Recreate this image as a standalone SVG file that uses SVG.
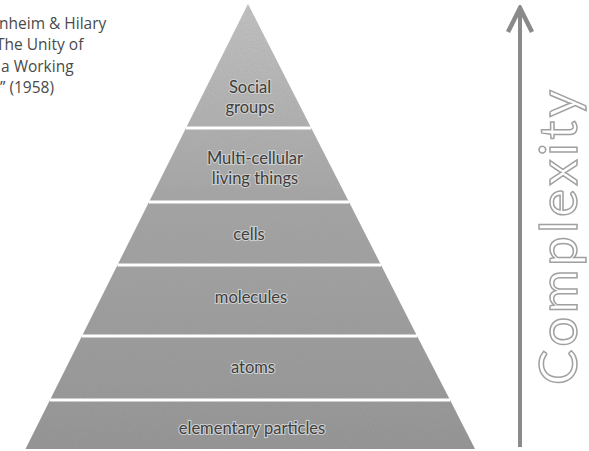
<svg xmlns="http://www.w3.org/2000/svg" width="589" height="451" viewBox="0 0 589 451">
<style>
.layer{fill:url(#pg);filter:url(#noise)}
.lbl{font-family:Lato,"Liberation Sans",sans-serif;font-size:16.5px;fill:#3e3e3e;stroke:#cfcfcf;stroke-width:2.2;paint-order:stroke;text-anchor:middle}
.sep{stroke:#ffffff;stroke-width:3}
.cite{font-family:"Open Sans","Liberation Sans",sans-serif;font-size:15.5px;fill:#4a4a4a}
.axis{font-family:Lato,"Liberation Sans",sans-serif;font-size:53px;fill:#ffffff;stroke:#a0a0a0;stroke-width:1.5}
</style>
<defs>
<linearGradient id="pg" gradientUnits="userSpaceOnUse" x1="0" y1="4" x2="0" y2="449">
<stop offset="0" stop-color="#c4c4c4"/>
<stop offset="0.45" stop-color="#a4a4a4"/>
<stop offset="1" stop-color="#929292"/>
</linearGradient>
<filter id="noise" x="0" y="0" width="1" height="1">
<feTurbulence type="fractalNoise" baseFrequency="0.7" numOctaves="2" seed="3" result="t"/>
<feColorMatrix in="t" type="matrix" values="0 0 0 0 0.35  0 0 0 0 0.35  0 0 0 0 0.35  0 0 0 0.6 -0.12" result="n"/>
<feComposite in="n" in2="SourceGraphic" operator="in" result="nc"/>
<feMerge><feMergeNode in="SourceGraphic"/><feMergeNode in="nc"/></feMerge>
</filter>
<marker id="ah" viewBox="0 0 30 30" refX="27" refY="15" markerWidth="30" markerHeight="30" markerUnits="userSpaceOnUse" orient="auto">
<path d="M3,3 L27,15 L3,27" fill="none" stroke="#8a8a8a" stroke-width="4.5" stroke-linejoin="miter"/>
</marker>
</defs>
<rect width="589" height="451" fill="#ffffff"/>

<g id="citation">
<text class="cite" x="-1" y="29">nheim &amp; Hilary</text>
<text class="cite" x="-4" y="50">The Unity of</text>
<text class="cite" x="1" y="72">a Working</text>
<text class="cite" x="0" y="93">” (1958)</text>
</g>

<g id="social-groups">
<polygon class="layer" points="248,4 311.2,128 186,128"/>
<text class="lbl" x="250" y="93">Social</text>
<text class="lbl" x="250" y="113">groups</text>
</g>
<g id="multicellular">
<polygon class="layer" points="186,128 311.2,128 349,202 149,202"/>
<text class="lbl" x="255" y="164">Multi-cellular</text>
<text class="lbl" x="255" y="184">living things</text>
</g>
<g id="cells">
<polygon class="layer" points="149,202 349,202 381,265 117.5,265"/>
<text class="lbl" x="249" y="240">cells</text>
</g>
<g id="molecules">
<polygon class="layer" points="117.5,265 381,265 417,336 82,336"/>
<text class="lbl" x="251" y="303">molecules</text>
</g>
<g id="atoms">
<polygon class="layer" points="82,336 417,336 450,400 50,400"/>
<text class="lbl" x="253" y="373">atoms</text>
</g>
<g id="elementary-particles">
<polygon class="layer" points="50,400 450,400 475,449 25.5,449"/>
<text class="lbl" x="252" y="434">elementary particles</text>
</g>

<g id="separators">
<line class="sep" x1="186" y1="128" x2="311.2" y2="128"/>
<line class="sep" x1="149" y1="202" x2="349" y2="202"/>
<line class="sep" x1="117.5" y1="265" x2="381" y2="265"/>
<line class="sep" x1="82" y1="336" x2="417" y2="336"/>
<line class="sep" x1="50" y1="400" x2="450" y2="400"/>
</g>

<g id="connectors">
<line x1="520" y1="447" x2="520" y2="8" stroke="#8a8a8a" stroke-width="4" marker-end="url(#ah)"/>
</g>

<g id="complexity-label">
<text class="axis" transform="translate(577,385) rotate(-90)" x="0" y="0" textLength="295" lengthAdjust="spacing">Complexity</text>
</g>
</svg>
